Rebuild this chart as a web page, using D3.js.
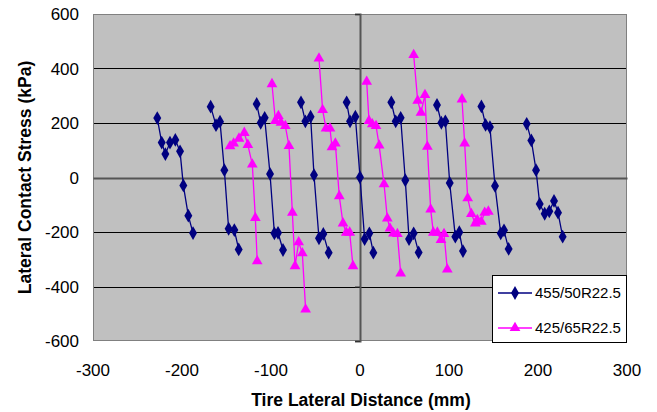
<!DOCTYPE html>
<html>
<head>
<meta charset="utf-8">
<script src="https://cdn.jsdelivr.net/npm/d3@7"></script>
<style>
  html, body { margin: 0; padding: 0; background: #fff; }
  svg { display: block; font-family: Arial, "Liberation Sans", sans-serif; }
</style>
</head>
<body>
<svg id="chart" width="657" height="412"></svg>
<script>
// ---- data (null marks a break between measurement groups) ----
const series455Name = "455/50R22.5";
const series455X = [
  -227.8, -222.8, -218.7, -213.5, -207.5, -202.2, -198.5, -192.9, -187.6, null,
  -167.8, -161.8, -157.3, -152.4, -147.6, -141.2, -136.3, null,
  -116.1, -111.6, -107.1, -101.1, -96.2, -92.1, -86.5, null,
  -66.3, -61.4, -55.5, -51.7, -46.1, -41.2, -35.2, null,
  -15.0, -11.2, -5.2, 0.0, 5.2, 10.5, 15.0, null,
  35.2, 40.1, 45.7, 50.9, 55.1, 60.3, 65.9, null,
  86.5, 91.4, 95.9, 100.8, 107.1, 111.6, 115.7, null,
  136.4, 141.1, 146.0, 151.7, 158.1, 161.8, 167.0, null,
  187.3, 192.5, 197.8, 201.9, 207.5, 212.7, 218.0, 222.5, 227.7
];
const series455Y = [
  218, 128, 86, 128, 138, 96, -29, -140, -204, null,
  260, 192, 205, 27, -188, -193, -264, null,
  270, 201, 219, 13, -205, -203, -266, null,
  276, 206, 223, 9, -223, -207, -276, null,
  276, 206, 223, 1, -226, -205, -276, null,
  276, 206, 219, -10, -226, -205, -275, null,
  266, 201, 206, -20, -217, -201, -270, null,
  261, 193, 185, -31, -205, -194, -262, null,
  197, 136, 27, -97, -133, -124, -86, -129, -217
];

const series425Name = "425/65R22.5";
const series425X = [
  -146.0, -142.0, -136.0, -130.0, -126.0, -121.0, -117.6, -115.5, null,
  -98.9, -95.1, -91.7, -88.8, -83.9, -79.8, -76.0, -73.0, -68.9, -64.8, -61.1, null,
  -46.1, -42.0, -38.2, -33.7, -31.5, -27.7, -23.3, -19.1, -15.4, -11.6, -7.9, null,
  7.5, 10.1, 13.8, 18.0, 21.5, 27.0, 30.7, 33.7, 37.5, 42.0, 45.7, null,
  60.3, 64.8, 68.5, 73.0, 75.7, 79.4, 82.4, 86.9, 91.0, 94.4, 98.1, null,
  114.6, 117.6, 121.0, 125.1, 129.6, 131.8, 136.3, 140.1, 144.2
];
const series425Y = [
  115, 125, 143, 164, 120, 48, -148, -307, null,
  343, 208, 226, 201, 189, 116, -129, -325, -237, -278, -484, null,
  437, 248, 180, 180, 111, 125, -68, -168, -202, -202, -325, null,
  352, 208, 196, 189, 118, -24, -150, -187, -205, -207, -352, null,
  450, 282, 238, 303, 113, -117, -202, -202, -229, -207, -337, null,
  287, 125, -76, -134, -168, -156, -162, -129, -125
];

const xTicks = [-300, -200, -100, 0, 100, 200, 300];
const yTicks = [-600, -400, -200, 0, 200, 400, 600];
const xTitle = "Tire Lateral Distance (mm)";
const yTitle = "Lateral Contact Stress (kPa)";

// ---- layout ----
const svg = d3.select("#chart");
const plot = { left: 93, right: 627, top: 14, bottom: 341 };

const x = d3.scaleLinear().domain([-300, 300]).range([plot.left, plot.right]);
const y = d3.scaleLinear().domain([-600, 600]).range([plot.bottom, plot.top]);

// plot background
svg.append("rect")
  .attr("x", plot.left).attr("y", plot.top)
  .attr("width", plot.right - plot.left).attr("height", plot.bottom - plot.top)
  .attr("fill", "#C0C0C0");

// horizontal gridlines
svg.append("g").selectAll("line")
  .data(yTicks.filter(v => v !== 0 && v !== -600 && v !== 600))
  .join("line")
  .attr("x1", plot.left).attr("x2", plot.right)
  .attr("y1", d => Math.round(y(d)) + 0.5).attr("y2", d => Math.round(y(d)) + 0.5)
  .attr("stroke", "#000").attr("stroke-width", 1);

// plot border
svg.append("rect")
  .attr("x", plot.left + 0.5).attr("y", plot.top + 0.5)
  .attr("width", plot.right - plot.left - 1).attr("height", plot.bottom - plot.top - 1)
  .attr("fill", "none").attr("stroke", "#808080").attr("stroke-width", 1);

// axes crossing at zero
const yAxisG = svg.append("g")
  .attr("transform", `translate(${Math.round(x(0))},0)`)
  .call(d3.axisLeft(y).tickValues(yTicks).tickSize(5).tickFormat(""));
yAxisG.select(".domain").attr("stroke", "#555").attr("stroke-width", 2);
yAxisG.selectAll(".tick line").attr("stroke", "#333");

const xAxisG = svg.append("g")
  .attr("transform", `translate(0,${Math.round(y(0))})`)
  .call(d3.axisBottom(x).tickValues(xTicks).tickSize(0).tickFormat(""));
xAxisG.select(".domain").attr("stroke", "#555").attr("stroke-width", 2);

// tick labels (low position, as in the reference)
svg.append("g").selectAll("text")
  .data(yTicks).join("text")
  .attr("x", 79).attr("y", d => y(d))
  .attr("dy", "0.36em")
  .attr("text-anchor", "end")
  .attr("font-size", 17)
  .attr("fill", "#000")
  .text(d => d);

svg.append("g").selectAll("text")
  .data(xTicks).join("text")
  .attr("x", d => x(d)).attr("y", 376)
  .attr("text-anchor", "middle")
  .attr("font-size", 17)
  .attr("fill", "#000")
  .text(d => d);

// titles
svg.append("text")
  .attr("x", 361).attr("y", 406)
  .attr("text-anchor", "middle")
  .attr("font-size", 17.5).attr("font-weight", "bold")
  .text(xTitle);

svg.append("text")
  .attr("transform", `translate(31,${(plot.top + plot.bottom) / 2}) rotate(-90)`)
  .attr("text-anchor", "middle")
  .attr("font-size", 17.5).attr("font-weight", "bold")
  .text(yTitle);

// series
function toPoints(xs, ys) {
  return xs.map((v, i) => (v === null || ys[i] === null) ? null : { x: v, y: ys[i] });
}
const pts455 = toPoints(series455X, series455Y);
const pts425 = toPoints(series425X, series425Y);

const line = d3.line()
  .defined(d => d !== null)
  .x(d => x(d.x)).y(d => y(d.y));

const diamond = d3.symbol().type(d3.symbolDiamond).size(55);
const triangle = d3.symbol().type(d3.symbolTriangle).size(50);

function drawSeries(pts, color, sym) {
  svg.append("path")
    .datum(pts)
    .attr("d", line)
    .attr("fill", "none")
    .attr("stroke", color)
    .attr("stroke-width", 1.3);
  svg.append("g").selectAll("path")
    .data(pts.filter(d => d !== null))
    .join("path")
    .attr("transform", d => `translate(${x(d.x)},${y(d.y)})`)
    .attr("d", sym)
    .attr("fill", color);
}

drawSeries(pts425, "#FF00FF", triangle);
drawSeries(pts455, "#000080", diamond);

// legend
const legend = svg.append("g");
legend.append("rect")
  .attr("x", 492.5).attr("y", 275.5).attr("width", 134).attr("height", 67)
  .attr("fill", "#fff").attr("stroke", "#000").attr("stroke-width", 1);

const legendItems = [
  { name: series455Name, color: "#000080", sym: diamond, cy: 293 },
  { name: series425Name, color: "#FF00FF", sym: triangle, cy: 328 }
];
legendItems.forEach(it => {
  legend.append("line")
    .attr("x1", 498).attr("x2", 532).attr("y1", it.cy).attr("y2", it.cy)
    .attr("stroke", it.color).attr("stroke-width", 1.3);
  legend.append("path")
    .attr("transform", `translate(515,${it.cy})`)
    .attr("d", it.sym).attr("fill", it.color);
  legend.append("text")
    .attr("x", 535).attr("y", it.cy).attr("dy", "0.36em")
    .attr("font-size", 15).attr("fill", "#000")
    .text(it.name);
});
</script>
</body>
</html>
